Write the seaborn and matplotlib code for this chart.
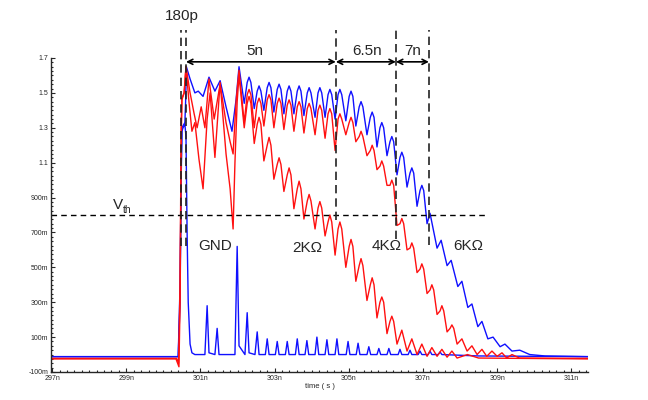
import matplotlib
matplotlib.use("Agg")
import matplotlib.pyplot as plt
import numpy as np
import pandas as pd
import seaborn as sns
from matplotlib.ticker import MultipleLocator

# ---- waveform data (time in ns, voltage in V) ----
t_gnd = [297.00, 300.40, 300.45, 300.48, 300.50, 300.53, 300.58, 300.61, 300.64, 300.67,
         300.72, 300.77, 300.85, 301.12, 301.18, 301.23, 301.39, 301.45, 301.50, 301.93,
         301.99, 302.04, 302.20, 302.26, 302.31, 302.47, 302.53, 302.58, 302.75, 302.80,
         302.85, 303.02, 303.07, 303.12, 303.29, 303.34, 303.39, 303.56, 303.61, 303.66,
         303.82, 303.87, 303.92, 304.09, 304.14, 304.19, 304.36, 304.41, 304.46, 304.63,
         304.68, 304.73, 304.93, 304.98, 305.03, 305.20, 305.25, 305.30, 305.49, 305.54,
         305.59, 305.76, 305.81, 305.86, 306.03, 306.08, 306.13, 306.33, 306.38, 306.43,
         306.60, 306.65, 306.70, 306.87, 306.92, 306.97, 307.14, 307.19, 307.24, 307.41,
         307.46, 307.51, 308.50, 311.45]
v_gnd = [-0.012, -0.012, 0.30, 1.00, 1.28, 1.30, 1.32, 1.25, 0.70, 0.30,
         0.06, 0.01, 0.00, 0.00, 0.28, 0.01, 0.00, 0.15, 0.00, 0.00,
         0.62, 0.05, 0.00, 0.24, 0.01, 0.00, 0.13, 0.00, 0.00, 0.09,
         0.00, 0.00, 0.075, 0.00, 0.00, 0.075, 0.00, 0.00, 0.09, 0.00,
         0.00, 0.08, 0.00, 0.00, 0.10, 0.00, 0.00, 0.085, 0.00, 0.00,
         0.09, 0.00, 0.00, 0.075, 0.00, 0.00, 0.065, 0.00, 0.00, 0.045,
         0.00, 0.00, 0.035, 0.00, 0.00, 0.035, 0.00, 0.00, 0.03, 0.00,
         0.00, 0.025, 0.00, 0.00, 0.02, 0.00, 0.00, 0.02, 0.00, 0.00,
         0.015, 0.00, -0.008, -0.012]

t_6k = [297.00, 300.40, 300.45, 300.48, 300.50, 300.58, 300.60, 300.62, 300.72, 300.85,
        300.94, 301.07, 301.23, 301.39, 301.53, 301.69, 301.85, 301.96, 302.04, 302.18,
        302.26, 302.31, 302.36, 302.45, 302.53, 302.58, 302.63, 302.71, 302.80, 302.85,
        302.90, 302.98, 303.07, 303.12, 303.17, 303.25, 303.34, 303.39, 303.44, 303.52,
        303.61, 303.66, 303.71, 303.79, 303.88, 303.93, 303.98, 304.09, 304.17, 304.22,
        304.27, 304.36, 304.44, 304.49, 304.54, 304.63, 304.71, 304.76, 304.81, 304.92,
        305.01, 305.06, 305.11, 305.19, 305.28, 305.33, 305.38, 305.49, 305.58, 305.63,
        305.68, 305.76, 305.84, 305.89, 305.94, 306.03, 306.11, 306.16, 306.21, 306.30,
        306.38, 306.43, 306.48, 306.57, 306.65, 306.70, 306.75, 306.84, 306.92, 306.97,
        307.02, 307.11, 307.19, 307.38, 307.49, 307.65, 307.76, 307.94, 308.05, 308.21,
        308.32, 308.48, 308.59, 308.75, 308.89, 309.08, 309.21, 309.40, 309.61, 309.88,
        310.29, 311.45]
v_6k = [-0.012, -0.012, 0.40, 1.05, 1.30, 1.33, 1.45, 1.65, 1.58, 1.50,
        1.51, 1.48, 1.59, 1.51, 1.57, 1.42, 1.28, 1.46, 1.65, 1.44,
        1.56, 1.59, 1.56, 1.41, 1.51, 1.54, 1.51, 1.40, 1.53, 1.56,
        1.53, 1.39, 1.52, 1.55, 1.52, 1.38, 1.51, 1.54, 1.51, 1.38,
        1.51, 1.54, 1.51, 1.37, 1.50, 1.53, 1.50, 1.36, 1.50, 1.53,
        1.50, 1.36, 1.49, 1.52, 1.49, 1.35, 1.49, 1.52, 1.49, 1.34,
        1.48, 1.51, 1.48, 1.31, 1.42, 1.45, 1.42, 1.26, 1.36, 1.39,
        1.36, 1.19, 1.30, 1.33, 1.30, 1.14, 1.22, 1.25, 1.22, 1.03,
        1.13, 1.16, 1.13, 0.96, 1.04, 1.07, 1.04, 0.85, 0.94, 0.97,
        0.94, 0.75, 0.81, 0.61, 0.655, 0.51, 0.54, 0.39, 0.42, 0.27,
        0.29, 0.16, 0.19, 0.09, 0.10, 0.045, 0.06, 0.02, 0.025, 0.00,
        -0.008, -0.012]

t_4k = [297.00, 300.36, 300.41, 300.45, 300.48, 300.50, 300.56, 300.61, 300.72, 300.83,
        300.91, 301.02, 301.12, 301.23, 301.37, 301.53, 301.69, 301.80, 301.88, 301.96,
        302.04, 302.18, 302.26, 302.31, 302.36, 302.45, 302.53, 302.58, 302.63, 302.71,
        302.80, 302.85, 302.90, 302.98, 303.07, 303.12, 303.17, 303.25, 303.34, 303.39,
        303.44, 303.52, 303.61, 303.66, 303.71, 303.79, 303.88, 303.93, 303.98, 304.09,
        304.17, 304.22, 304.27, 304.36, 304.44, 304.49, 304.54, 304.63, 304.71, 304.76,
        304.81, 304.92, 305.01, 305.06, 305.11, 305.19, 305.28, 305.33, 305.38, 305.49,
        305.58, 305.63, 305.68, 305.76, 305.84, 305.89, 305.94, 306.03, 306.11, 306.16,
        306.21, 306.30, 306.38, 306.43, 306.48, 306.57, 306.65, 306.70, 306.75, 306.84,
        306.92, 306.97, 307.02, 307.11, 307.19, 307.24, 307.29, 307.38, 307.46, 307.51,
        307.56, 307.65, 307.73, 307.78, 307.83, 307.92, 308.05, 308.19, 308.32, 308.46,
        308.59, 308.72, 308.86, 309.00, 309.13, 309.26, 309.40, 309.60, 311.45]
v_4k = [-0.022, -0.022, -0.05, 0.40, 1.30, 1.47, 1.50, 1.65, 1.50, 1.38,
        1.30, 1.42, 1.30, 1.58, 1.35, 1.55, 1.33, 1.22, 1.15, 1.45,
        1.63, 1.33, 1.49, 1.52, 1.49, 1.30, 1.44, 1.47, 1.44, 1.31,
        1.46, 1.49, 1.46, 1.30, 1.44, 1.47, 1.44, 1.29, 1.43, 1.46,
        1.43, 1.28, 1.42, 1.45, 1.42, 1.27, 1.41, 1.44, 1.41, 1.26,
        1.40, 1.43, 1.40, 1.24, 1.38, 1.41, 1.38, 1.17, 1.35, 1.38,
        1.35, 1.26, 1.33, 1.36, 1.33, 1.22, 1.25, 1.28, 1.25, 1.14,
        1.17, 1.20, 1.17, 1.06, 1.08, 1.11, 1.08, 0.97, 0.97, 1.00,
        0.97, 0.74, 0.75, 0.78, 0.75, 0.60, 0.61, 0.64, 0.61, 0.47,
        0.49, 0.52, 0.49, 0.35, 0.37, 0.40, 0.37, 0.23, 0.25, 0.28,
        0.25, 0.13, 0.15, 0.17, 0.15, 0.06, 0.09, 0.02, 0.05, 0.00,
        0.03, -0.01, 0.02, -0.01, 0.01, -0.02, 0.00, -0.02, -0.022]

t_2k = [297.00, 300.34, 300.42, 300.45, 300.48, 300.50, 300.56, 300.61, 300.69, 300.77,
        300.85, 300.96, 301.07, 301.18, 301.26, 301.39, 301.53, 301.69, 301.80, 301.88,
        301.93, 301.99, 302.04, 302.18, 302.26, 302.31, 302.36, 302.45, 302.53, 302.58,
        302.63, 302.71, 302.80, 302.85, 302.90, 302.98, 303.07, 303.12, 303.17, 303.25,
        303.34, 303.39, 303.44, 303.52, 303.61, 303.66, 303.71, 303.79, 303.88, 303.93,
        303.98, 304.09, 304.17, 304.22, 304.27, 304.36, 304.44, 304.49, 304.54, 304.63,
        304.71, 304.76, 304.81, 304.92, 305.01, 305.06, 305.11, 305.19, 305.28, 305.33,
        305.38, 305.49, 305.58, 305.63, 305.68, 305.76, 305.84, 305.89, 305.94, 306.03,
        306.11, 306.16, 306.21, 306.30, 306.43, 306.57, 306.70, 306.84, 306.97, 307.11,
        307.24, 307.38, 307.51, 307.65, 307.78, 307.92, 308.20, 308.50, 311.45]
v_2k = [-0.025, -0.025, -0.07, 0.30, 1.20, 1.46, 1.50, 1.65, 1.45, 1.28,
        1.33, 1.12, 0.95, 1.35, 1.50, 1.13, 1.56, 1.15, 0.95, 0.72,
        1.10, 1.45, 1.60, 1.30, 1.44, 1.48, 1.44, 1.21, 1.32, 1.36,
        1.32, 1.11, 1.20, 1.245, 1.20, 1.005, 1.09, 1.128, 1.09, 0.935,
        1.03, 1.07, 1.03, 0.836, 0.95, 0.994, 0.95, 0.777, 0.88, 0.918,
        0.88, 0.72, 0.84, 0.877, 0.84, 0.68, 0.76, 0.80, 0.76, 0.57,
        0.72, 0.76, 0.72, 0.50, 0.62, 0.66, 0.62, 0.42, 0.51, 0.55,
        0.51, 0.31, 0.40, 0.44, 0.40, 0.21, 0.30, 0.33, 0.30, 0.12,
        0.19, 0.22, 0.19, 0.06, 0.14, 0.02, 0.09, 0.00, 0.06, -0.01,
        0.04, -0.01, 0.03, -0.015, 0.02, -0.02, 0.00, -0.02, -0.025]

v_th = 0.8
marker_times = [300.48, 300.61, 304.65, 306.27, 307.16]
x_ticks = [297, 299, 301, 303, 305, 307, 309, 311]
x_labels = ["297n", "299n", "301n", "303n", "305n", "307n", "309n", "311n"]
y_ticks = [-0.1, 0.1, 0.3, 0.5, 0.7, 0.9, 1.1, 1.3, 1.5, 1.7]
y_labels = ["-100m", "100m", "300m", "500m", "700m", "900m", "1.1", "1.3", "1.5", "1.7"]

traces = [("GND", t_gnd, v_gnd, "#1010ff"),
          ("6K", t_6k, v_6k, "#1010ff"),
          ("2K", t_2k, v_2k, "#ff1010"),
          ("4K", t_4k, v_4k, "#ff1010")]

sns.set_style("ticks")
plt.rcParams["font.family"] = ["Liberation Sans", "DejaVu Sans"]

fig = plt.figure(figsize=(6.48, 4.0), dpi=100)
ax = fig.add_axes([51 / 648, 1 - 372 / 400, 537 / 648, 314 / 400])

for name, t, v, col in traces:
    df = pd.DataFrame({"t": t, "v": v})
    sns.lineplot(data=df, x="t", y="v", ax=ax, color=col, lw=1.0,
                 sort=False, estimator=None)

ax.set_xlim(296.97, 311.45)
ax.set_ylim(-0.1, 1.7)
ax.set_xticks(x_ticks)
ax.set_xticklabels(x_labels)
ax.set_yticks(y_ticks)
ax.set_yticklabels(y_labels)
ax.xaxis.set_minor_locator(MultipleLocator(0.2))
ax.yaxis.set_minor_locator(MultipleLocator(0.025))
ax.tick_params(which="both", direction="in", labelsize=5, width=0.8, pad=2)
ax.tick_params(which="major", length=3)
ax.tick_params(which="minor", length=1.5)
ax.set_xlabel("time ( s )", fontsize=5.5, labelpad=1)
ax.set_ylabel("")
sns.despine(ax=ax)
for s in ["left", "bottom"]:
    ax.spines[s].set_linewidth(1.0)

# threshold line
ax.plot([296.97, 308.67], [v_th, v_th], color="black", lw=1.0, dashes=(4, 3))
ax.text(298.78, 0.86, "V", fontsize=11, ha="center", va="center")
ax.text(299.03, 0.83, "th", fontsize=7.5, ha="center", va="center")

# vertical dashed markers
bottoms = [0.62, 0.62, 0.77, 0.66, 0.63]
for tm, yb in zip(marker_times, bottoms):
    ax.plot([tm, tm], [yb, 1.86], color="#222222", lw=1.2, dashes=(5, 3),
            clip_on=False)

# interval arrows
arrow_y = 1.678
for a, b in [(marker_times[1], marker_times[2]), (marker_times[2], marker_times[3]),
             (marker_times[3], marker_times[4])]:
    ax.annotate("", xy=(b, arrow_y), xytext=(a, arrow_y),
                arrowprops=dict(arrowstyle="<->", lw=1.2, color="black",
                                shrinkA=0, shrinkB=0, mutation_scale=9),
                annotation_clip=False)

ax.text(300.50, 1.94, "180p", fontsize=11, ha="center", va="center", clip_on=False)
ax.text(302.47, 1.742, "5n", fontsize=11, ha="center", va="center", clip_on=False)
ax.text(305.49, 1.742, "6.5n", fontsize=11, ha="center", va="center", clip_on=False)
ax.text(306.73, 1.742, "7n", fontsize=11, ha="center", va="center", clip_on=False)

ax.text(301.39, 0.625, "GND", fontsize=11, ha="center", va="center")
ax.text(303.87, 0.613, "2K\u03a9", fontsize=11, ha="center", va="center")
ax.text(306.03, 0.625, "4K\u03a9", fontsize=11, ha="center", va="center")
ax.text(308.21, 0.625, "6K\u03a9", fontsize=11, ha="center", va="center")

fig.savefig("out.png", dpi=100)
